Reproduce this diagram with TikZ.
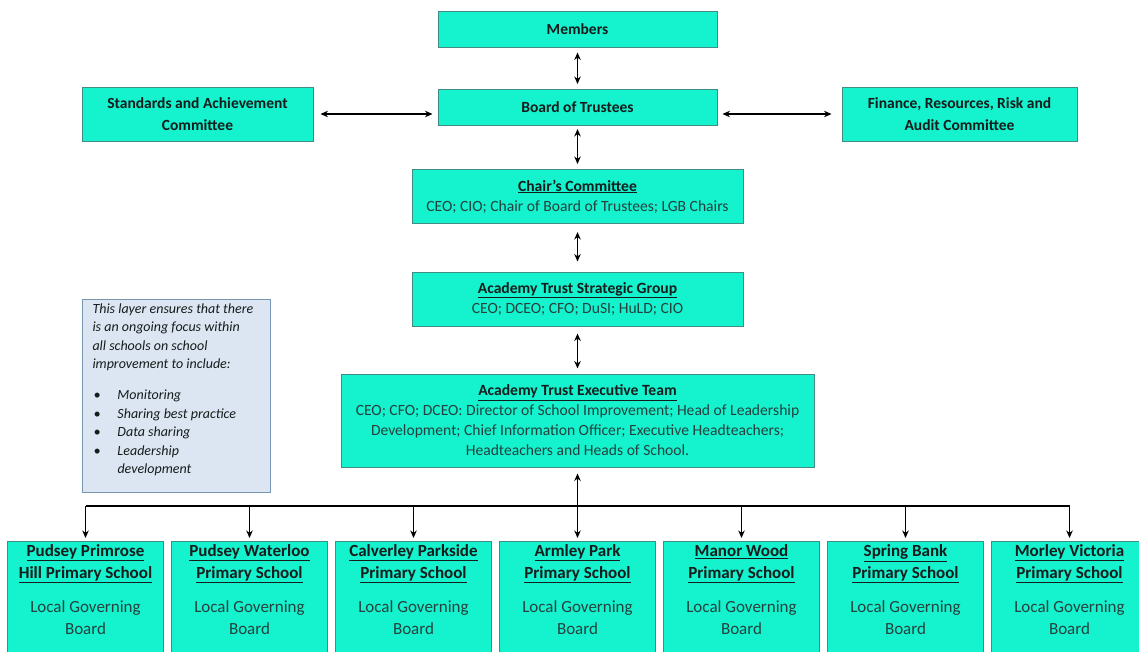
\documentclass[tikz,border=0pt]{standalone}
\usepackage{fontspec}
\setmainfont{Carlito}
\usetikzlibrary{arrows.meta}
\definecolor{teambox}{HTML}{14F2CE}
\definecolor{teamline}{HTML}{428C85}
\definecolor{titletext}{HTML}{161C1C}
\definecolor{bodytext}{HTML}{26403D}
\definecolor{notefill}{HTML}{DCE6F2}
\definecolor{noteline}{HTML}{7896B4}

\begin{document}
\begin{tikzpicture}[
            x=1pt, y=-1pt,
            box/.style={rectangle, draw=teamline, line width=1pt, fill=teambox, text=titletext, align=center, inner sep=0pt},
            topbox/.style={box, font=\fontsize{15.5}{22}\selectfont\bfseries},
            groupbox/.style={box, minimum width=331pt, minimum height=54pt, font=\fontsize{15.6}{20}\selectfont},
            school/.style={box, anchor=north, inner sep=3pt, font=\fontsize{17}{22}\selectfont},
            note/.style={rectangle, draw=noteline, line width=1pt, fill=notefill, anchor=north west, inner xsep=10pt, inner ysep=4pt, text=titletext, font=\fontsize{14}{18.5}\selectfont\itshape},
            link/.style={{Stealth[length=7.5pt,width=6.5pt]}-{Stealth[length=7.5pt,width=6.5pt]}, line width=1.1pt, shorten <=5pt, shorten >=5pt},
            feed/.style={-{Stealth[length=7.5pt,width=6.5pt]}, line width=1.1pt}
            ]
            \useasboundingbox (0,0) rectangle (1139,651);
            \clip (0,0) rectangle (1139,651);

            % Trust board
            \node[topbox, minimum width=279pt, minimum height=36pt] (members) at (577.5,29) {Members};
            \node[topbox, minimum width=279pt, minimum height=36pt] (board) at (577.5,107.5) {Board of Trustees};
            \node[topbox, minimum width=231pt, minimum height=54pt] (standards) at (197.5,114) {Standards and Achievement\\Committee};
            \node[topbox, minimum width=235pt, minimum height=54pt] (finance) at (959.5,114) {Finance, Resources, Risk and\\Audit Committee};

            % Groups
            \node[groupbox] (chairs) at (577.5,196.5) {\textbf{\underline{Chair’s Committee}}\\{\color{bodytext}CEO; CIO; Chair of Board of Trustees; LGB Chairs}};
            \node[groupbox] (strategic) at (577.5,299) {\textbf{\underline{Academy Trust Strategic Group}}\\{\color{bodytext}CEO; DCEO; CFO; DuSI; HuLD; CIO}};
            \node[groupbox, minimum width=473pt, minimum height=93pt] (executive) at (577.5,420.5) {\textbf{\underline{Academy Trust Executive Team}}\\{\color{bodytext}CEO; CFO; DCEO: Director of School Improvement; Head of Leadership}\\{\color{bodytext}Development; Chief Information Officer; Executive Headteachers;}\\{\color{bodytext}Headteachers and Heads of School.}};

            % Note
            \node[note] (focus) at (82,299) {\parbox[t][185pt][t]{168pt}{\raggedright This layer ensures that there\\is an ongoing focus within\\all schools on school\\improvement to include:\\[12.5pt]
                \makebox[25pt][l]{\hspace{1pt}\textbullet}Monitoring\\
                \makebox[25pt][l]{\hspace{1pt}\textbullet}Sharing best practice\\
                \makebox[25pt][l]{\hspace{1pt}\textbullet}Data sharing\\
                \makebox[25pt][l]{\hspace{1pt}\textbullet}Leadership\\
                \hspace*{25pt}development}};

            % Schools
            \foreach \i/\upper/\lower in {1/Pudsey Primrose/Hill Primary School, 2/Pudsey Waterloo/Primary School, 3/Calverley Parkside/Primary School, 4/Armley Park/Primary School, 5/Manor Wood/Primary School, 6/Spring Bank/Primary School, 7/Morley Victoria/Primary School}
                \node[school] (s\i) at ({85.5+164*(\i-1)},541) {\parbox[t][120pt][t]{150pt}{\centering\textbf{\underline{\upper}}\\\textbf{\underline{\lower}}\\[12pt]{\color{bodytext}Local Governing\\Board}}};

            % Arrows
            \coordinate (bus) at (577.5,506);
            \draw[link] (members) -- (board);
            \draw[link, shorten <=7pt] (standards) -- (standards -| board.west);
            \draw[link, shorten >=10pt] (board.east |- standards) -- (finance);
            \draw[link, shorten <=3pt] (board) -- (chairs);
            \draw[link, shorten <=8pt, shorten >=10pt] (chairs) -- (strategic);
            \draw[link, shorten <=7pt] (strategic) -- (executive);
            \draw[feed, shorten >=6pt] (bus) -- (executive);
            \draw[line width=1.1pt] (s1 |- bus) -- (s7 |- bus);
            \foreach \i in {1,...,7}
                \draw[feed, shorten >=3pt] (s\i |- bus) -- (s\i);

        \end{tikzpicture}
\end{document}
